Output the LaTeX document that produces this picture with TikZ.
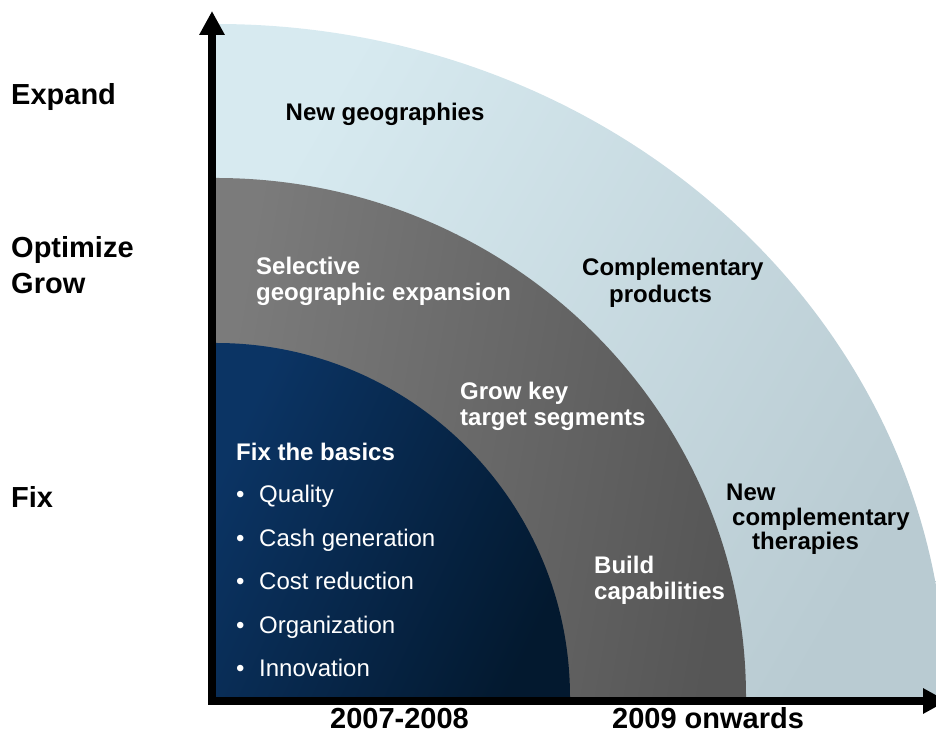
\documentclass[tikz,border=0pt]{standalone}
\usepackage{fontspec}
\setmainfont{Liberation Sans}
\usetikzlibrary{arrows.meta}

\definecolor{skyA}{HTML}{D7EAF0}
\definecolor{skyB}{HTML}{B9CBD2}
\definecolor{greyA}{HTML}{7B7B7B}
\definecolor{greyB}{HTML}{565656}
\definecolor{navyA}{HTML}{0B3464}
\definecolor{navyB}{HTML}{03192F}

\newcommand{\bulline}[1]{\makebox[23pt][l]{\textbullet}#1}

\begin{document}
\begin{tikzpicture}[x=1pt,y=1pt,
  axis/.style={line width=8pt, line cap=rect, -{Triangle[length=24pt,width=24pt]}},
  rowlabel/.style={font=\fontsize{29}{36}\selectfont\bfseries, anchor=base west, inner sep=0pt, align=left, text=black},
  darktext/.style={font=\fontsize{24}{26.5}\selectfont\bfseries, anchor=base west, inner sep=0pt, align=left, text=black},
  lighttext/.style={darktext, text=white},
]
\useasboundingbox (0,0) rectangle (936,735);

\coordinate (origin) at (212,34);
\coordinate (ytip) at (212,724);
\coordinate (xtip) at (947,34);

\begin{scope}
  \clip (0,0) rectangle (936,735);
  % three nested quarter rings, outermost first
  \shade[left color=skyA, right color=skyB, shading angle=60]
    (216,38) -- (946,38) arc[start angle=0, end angle=90, x radius=730, y radius=673] -- cycle;
  \shade[left color=greyA, right color=greyB, shading angle=80]
    (216,38) -- (746,38) arc[start angle=0, end angle=90, x radius=530, y radius=519] -- cycle;
  \shade[left color=navyA, right color=navyB, shading angle=65]
    (216,38) -- (570,38) arc[start angle=0, end angle=90, radius=354] -- cycle;
  % axes
  \draw[axis] (origin) -- (ytip);
  \draw[axis] (origin) -- (xtip);
\end{scope}

% phase labels on the left (multi-line nodes sit on their last baseline)
\node[rowlabel] (expand) at (11,630) {Expand};
\node[rowlabel] (optgrow) at (11,441) {Optimize\\Grow};
\node[rowlabel] (fix) at (11,227) {Fix};

% period labels under the time axis
\node[rowlabel] (p1) at (330,6) {2007-2008};
\node[rowlabel] (p2) at (612,6) {2009 onwards};

% outer ring
\node[darktext] (newgeo) at (285.5,614) {New geographies};
\node[darktext] (compprod) at (582,432.5) {Complementary\\\hspace*{27pt}products};
\node[darktext, font=\fontsize{24}{24.5}\selectfont\bfseries] (newther) at (726,185)
  {New\\\hspace*{6pt}complementary\\\hspace*{26pt}therapies};

% middle ring
\node[lighttext] (selgeo) at (256,434) {Selective\\geographic expansion};
\node[lighttext] (growkey) at (460,309) {Grow key\\target segments};
\node[lighttext] (build) at (594,135) {Build\\capabilities};

% inner ring
\node[lighttext, font=\fontsize{24}{43.5}\selectfont] (basics) at (236,58)
  {\textbf{Fix the basics}\\[-1.5pt]
   \bulline{Quality}\\
   \bulline{Cash generation}\\
   \bulline{Cost reduction}\\
   \bulline{Organization}\\
   \bulline{Innovation}};
\end{tikzpicture}
\end{document}
